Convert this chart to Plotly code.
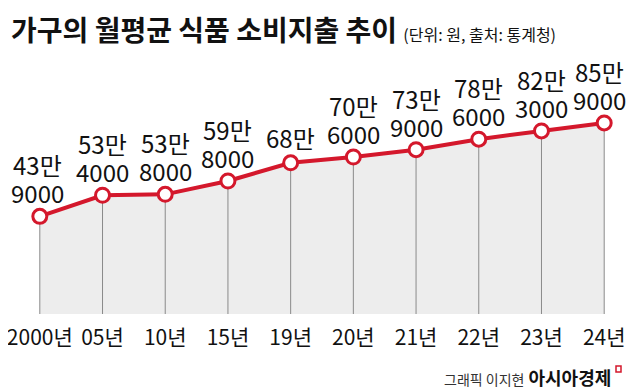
import plotly.graph_objects as go

years = ["2000년", "05년", "10년", "15년", "19년", "20년", "21년", "22년", "23년", "24년"]
spending_won = [439000, 534000, 538000, 598000, 680000, 706000, 739000, 786000, 823000, 859000]

title_text = "가구의 월평균 식품 소비지출 추이"
subtitle_text = "(단위: 원, 출처: 통계청)"
credit_text = "그래픽 이지현"
brand_text = "아시아경제"

FONT = "Noto Sans CJK KR, Noto Sans, sans-serif"
RED = "#d4182c"

vals = [v / 10000 for v in spending_won]

fig = go.Figure()

# grey area under the line
fig.add_trace(go.Scatter(x=years, y=vals, mode="lines", fill="tozeroy",
                         fillcolor="#ededed", line=dict(width=0, color="#ededed"),
                         hoverinfo="skip", showlegend=False))

# vertical drop lines
vx, vy = [], []
for c, v in zip(years, vals):
    vx += [c, c, None]
    vy += [0, v, None]
fig.add_trace(go.Scatter(x=vx, y=vy, mode="lines", line=dict(color="#8a8a8a", width=1),
                         hoverinfo="skip", showlegend=False))

# main line
fig.add_trace(go.Scatter(x=years, y=vals, mode="lines+markers",
                         line=dict(color=RED, width=4),
                         marker=dict(size=14, color="white", line=dict(color=RED, width=3)),
                         showlegend=False, cliponaxis=False))

# page body has an 8px margin: figure is sized so that it ends at the window edge
O = 8
W, H = 640 - O, 392 - O
L, R, T, B = 21 - O, 17, 60 - O, 78
pw, ph = W - L - R, H - T - B

def px(x):
    return (x - O - L) / pw

def py(y):
    return (H - B - (y - O)) / ph

annotations = []
n = len(years)
lab_font = dict(family=FONT, size=24, color="#111111")
for i, (c, v, w) in enumerate(zip(years, vals, spending_won)):
    man, rest = divmod(w, 10000)
    xs = -5 if i == n - 1 else (-2 if i == 0 else 0)
    if rest == 0:
        annotations.append(dict(x=c, y=v, xref="x", yref="y", text=f"{man}만", showarrow=False,
                                xanchor="center", yanchor="bottom", yshift=6, xshift=xs,
                                font=lab_font))
    else:
        annotations.append(dict(x=c, y=v, xref="x", yref="y", text=f"{rest}", showarrow=False,
                                xanchor="center", yanchor="bottom", yshift=4, xshift=xs,
                                font=lab_font))
        annotations.append(dict(x=c, y=v, xref="x", yref="y", text=f"{man}만", showarrow=False,
                                xanchor="center", yanchor="bottom", yshift=32, xshift=xs,
                                font=lab_font))

annotations.append(dict(xref="paper", yref="paper", x=px(9), y=py(7), xanchor="left", yanchor="top",
                        showarrow=False,
                        text=f"<b>{title_text}</b> <span style='font-size:16px'>{subtitle_text}</span>",
                        font=dict(family=FONT, size=28, color="#111111")))

annotations.append(dict(xref="paper", yref="paper", x=px(613), y=py(377), xanchor="right", yanchor="middle",
                        showarrow=False,
                        text=f"<span style='font-size:14px;color:#333'>{credit_text}</span> <b>{brand_text}</b>",
                        font=dict(family=FONT, size=18, color="#111111")))

fig.update_layout(
    width=W, height=H,
    margin=dict(l=L, r=R, t=T, b=B),
    paper_bgcolor="white", plot_bgcolor="white",
    annotations=annotations,
    shapes=[dict(type="rect", xref="paper", yref="paper",
                 x0=px(616), x1=px(621), y0=py(372), y1=py(366),
                 line=dict(color=RED, width=1.5))],
    xaxis=dict(type="category", range=[-0.3, 9.3], showgrid=False, zeroline=False, automargin=False,
               showline=False, ticks="", ticklabelstandoff=9,
               tickfont=dict(family=FONT, size=21, color="#111111")),
    yaxis=dict(range=[0, ph / 2.224], visible=False, automargin=False),
)

fig.write_html("out.html")
